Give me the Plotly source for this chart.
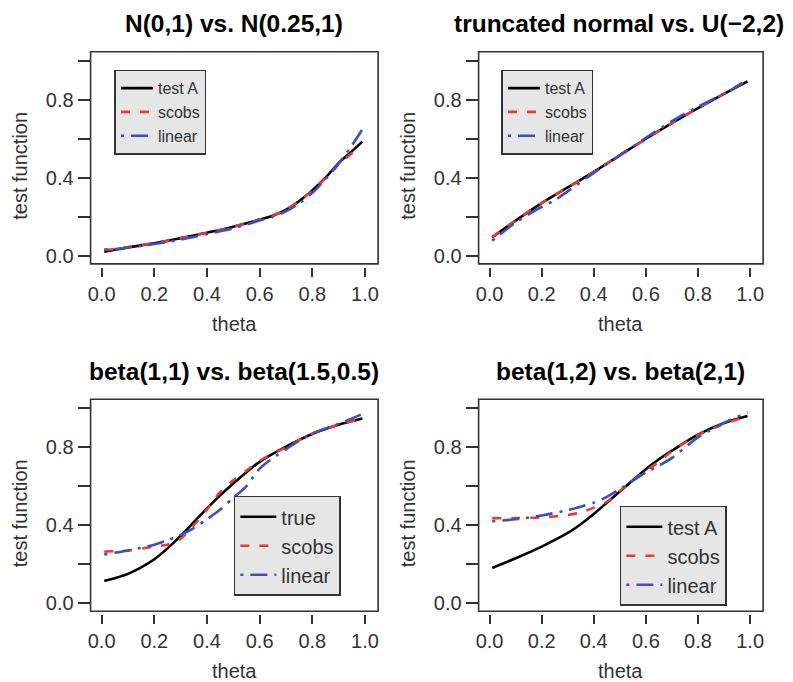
import plotly.graph_objects as go

# ---------------- data ----------------
titles = ["N(0,1) vs. N(0.25,1)", "truncated normal vs. U(\u22122,2)",
          "beta(1,1) vs. beta(1.5,0.5)", "beta(1,2) vs. beta(2,1)"]
series_names = [["test A", "scobs", "linear"], ["test A", "scobs", "linear"],
                ["true", "scobs", "linear"], ["test A", "scobs", "linear"]]

x_ticks = [0.0, 0.2, 0.4, 0.6, 0.8, 1.0]
x_ticklabels = ["0.0", "0.2", "0.4", "0.6", "0.8", "1.0"]
y_ticks = [0.0, 0.2, 0.4, 0.6, 0.8, 1.0]
y_ticklabels = ["0.0", "", "0.4", "", "0.8", ""]

# panel 1: N(0,1) vs N(0.25,1)
p1_theta = [0.01, 0.05, 0.10, 0.15, 0.20, 0.25, 0.30, 0.35, 0.40, 0.45, 0.50,
            0.55, 0.60, 0.65, 0.70, 0.75, 0.80, 0.85, 0.90, 0.95, 0.99]
p1_testA = [0.020, 0.030, 0.042, 0.053, 0.064, 0.076, 0.090, 0.104, 0.118, 0.132, 0.148,
            0.166, 0.185, 0.205, 0.235, 0.280, 0.335, 0.400, 0.475, 0.535, 0.585]
p1_scobs_theta = [0.01, 0.05, 0.10, 0.15, 0.20, 0.25, 0.30, 0.35, 0.40, 0.45, 0.50,
                  0.55, 0.60, 0.65, 0.70, 0.75, 0.80, 0.85, 0.90, 0.95, 0.98]
p1_scobs = [0.030, 0.034, 0.044, 0.054, 0.065, 0.077, 0.090, 0.104, 0.118, 0.132, 0.148,
            0.166, 0.185, 0.206, 0.236, 0.280, 0.333, 0.398, 0.468, 0.525, 0.562]
p1_linear = [0.030, 0.034, 0.042, 0.050, 0.060, 0.070, 0.082, 0.096, 0.110, 0.125, 0.141,
             0.160, 0.180, 0.200, 0.228, 0.268, 0.322, 0.392, 0.472, 0.565, 0.648]

# panel 2: truncated normal vs U(-2,2)
p2_theta = [0.01, 0.10, 0.20, 0.25, 0.30, 0.40, 0.50, 0.60, 0.70, 0.80, 0.90, 0.99]
p2_testA = [0.094, 0.180, 0.270, 0.311, 0.350, 0.430, 0.515, 0.600, 0.680, 0.757, 0.830, 0.894]
p2_scobs = [0.095, 0.181, 0.270, 0.310, 0.350, 0.430, 0.515, 0.598, 0.680, 0.757, 0.832, 0.900]
p2_linear_theta = [0.01, 0.10, 0.20, 0.25, 0.30, 0.40, 0.50, 0.60, 0.70, 0.80, 0.90, 0.97]
p2_linear = [0.077, 0.170, 0.250, 0.285, 0.330, 0.425, 0.515, 0.605, 0.690, 0.765, 0.830, 0.885]

# panel 3: beta(1,1) vs beta(1.5,0.5)
p3_theta = [0.01, 0.05, 0.10, 0.15, 0.20, 0.25, 0.30, 0.35, 0.40, 0.45, 0.50, 0.55, 0.60,
            0.70, 0.80, 0.90, 0.99]
p3_true = [0.114, 0.128, 0.150, 0.183, 0.225, 0.281, 0.345, 0.415, 0.486, 0.553, 0.614,
           0.672, 0.725, 0.803, 0.868, 0.915, 0.947]
p3_scobs_theta = [0.01, 0.10, 0.20, 0.25, 0.30, 0.35, 0.40, 0.45, 0.50, 0.55, 0.60, 0.70,
                  0.80, 0.90, 0.98]
p3_scobs = [0.265, 0.270, 0.290, 0.300, 0.330, 0.400, 0.480, 0.570, 0.630, 0.680, 0.730,
            0.800, 0.870, 0.915, 0.945]
p3_linear_theta = [0.01, 0.10, 0.20, 0.25, 0.30, 0.35, 0.40, 0.45, 0.50, 0.55, 0.60, 0.70,
                   0.80, 0.90, 0.99]
p3_linear = [0.250, 0.270, 0.300, 0.322, 0.350, 0.385, 0.430, 0.480, 0.540, 0.600, 0.690,
             0.790, 0.870, 0.920, 0.970]

# panel 4: beta(1,2) vs beta(2,1)
p4_theta = [0.01, 0.10, 0.20, 0.30, 0.35, 0.40, 0.45, 0.50, 0.60, 0.65, 0.70, 0.80, 0.90, 0.99]
p4_testA = [0.180, 0.230, 0.290, 0.360, 0.405, 0.457, 0.515, 0.573, 0.687, 0.738, 0.782, 0.864, 0.924, 0.960]
p4_scobs_theta = [0.01, 0.10, 0.20, 0.30, 0.35, 0.40, 0.45, 0.50, 0.60, 0.65, 0.70, 0.80, 0.90, 0.98]
p4_scobs = [0.436, 0.436, 0.440, 0.452, 0.465, 0.490, 0.520, 0.575, 0.680, 0.725, 0.780, 0.862, 0.920, 0.955]
p4_linear = [0.420, 0.430, 0.450, 0.477, 0.495, 0.515, 0.545, 0.585, 0.670, 0.705, 0.745, 0.850, 0.925, 0.978]

panels = [
    [(p1_theta, p1_testA), (p1_scobs_theta, p1_scobs), (p1_theta, p1_linear)],
    [(p2_theta, p2_testA), (p2_theta, p2_scobs), (p2_linear_theta, p2_linear)],
    [(p3_theta, p3_true), (p3_scobs_theta, p3_scobs), (p3_linear_theta, p3_linear)],
    [(p4_theta, p4_testA), (p4_scobs_theta, p4_scobs), (p4_theta, p4_linear)],
]

# ---------------- styling ----------------
W, H = 793, 682
OFF = 8                      # page body margin
FW, FH = W - OFF, H - OFF    # figure size

def px(x):
    return (x - OFF) / FW

def py(y):
    return 1 - (y - OFF) / FH

colors = ["#000000", "#ec3a2c", "#3b4fc6"]
dashes = ["solid", "9px,10px", "3px,7px,17px,7px"]
font = "Liberation Sans, Arial, Helvetica, sans-serif"
tick_col = "#333333"

# panel boxes in window pixels: left, right, top, bottom
boxes = [(88, 377, 52, 265), (478, 764, 52, 265), (88, 377, 401, 614), (478, 764, 401, 614)]
title_cx = [232, 619, 232, 621]
# legend top-left corners (window px), font sizes, item widths
legend_pos = [(112, 70, 16, 32), (501, 70, 16, 32), (232, 498, 20, 36), (620, 508, 20, 36)]

fig = go.Figure()
annotations = []
shapes = []
for i, (box, pdata) in enumerate(zip(boxes, panels)):
    n = "" if i == 0 else str(i + 1)
    xa, ya = "x" + n, "y" + n
    lg = "legend" + n
    for k, (tx, vy) in enumerate(pdata):
        fig.add_trace(go.Scatter(
            x=tx, y=vy, mode="lines", name=series_names[i][k],
            line=dict(color=colors[k], width=2.6, dash=dashes[k],
                      shape="spline", smoothing=0.8),
            xaxis=xa, yaxis=ya, legend=lg, showlegend=True))
    l, r, t, b = box
    xdom = [px(l), px(r)]
    ydom = [py(b), py(t)]
    fig.layout["xaxis" + n] = dict(
        domain=xdom, range=[-0.042, 1.05], anchor="free", position=py(b + 3),
        tickvals=x_ticks, ticktext=x_ticklabels, ticks="outside", ticklen=9,
        tickwidth=1.5, tickcolor=tick_col, showline=False, showgrid=False,
        zeroline=False, tickfont=dict(family=font, size=20, color="#333333"))
    fig.layout["yaxis" + n] = dict(
        domain=ydom, range=[-0.042, 1.046], anchor=xa,
        tickvals=y_ticks, ticktext=y_ticklabels, ticks="outside", ticklen=12,
        tickwidth=1.5, tickcolor=tick_col, showline=False, showgrid=False,
        zeroline=False, tickfont=dict(family=font, size=20, color="#333333"))
    shapes.append(dict(type="rect", xref=xa + " domain", yref=ya + " domain",
                       x0=0, x1=1, y0=0, y1=1, line=dict(color="#333333", width=1.6),
                       layer="above"))
    cx = (l + r) / 2
    annotations.append(dict(text="<b>" + titles[i] + "</b>", x=px(title_cx[i]), y=py(t - 28),
                            xref="paper", yref="paper", showarrow=False,
                            xanchor="center", yanchor="middle",
                            font=dict(family=font, size=24.5, color="#000000")))
    annotations.append(dict(text="theta", x=px(cx), y=py(b + 60),
                            xref="paper", yref="paper", showarrow=False,
                            xanchor="center", yanchor="middle",
                            font=dict(family=font, size=20, color="#333333")))
    annotations.append(dict(text="test function", x=px(l - 71), y=py((t + b) / 2 + 8),
                            xref="paper", yref="paper", showarrow=False, textangle=-90,
                            xanchor="center", yanchor="middle",
                            font=dict(family=font, size=20, color="#333333")))
    lx, ly, lf, iw = legend_pos[i]
    fig.layout[lg] = dict(x=px(lx), y=py(ly), xanchor="left", yanchor="top",
                          xref="paper", yref="paper",
                          bgcolor="#e6e6e6", bordercolor="#333333", borderwidth=1.5,
                          font=dict(family=font, size=lf, color="#333333"),
                          itemwidth=iw, traceorder="normal", tracegroupgap=0)

fig.update_layout(width=FW, height=FH, margin=dict(l=0, r=0, t=0, b=0),
                  paper_bgcolor="white", plot_bgcolor="white",
                  annotations=annotations, shapes=shapes, showlegend=True)
fig.write_html("out.html")
